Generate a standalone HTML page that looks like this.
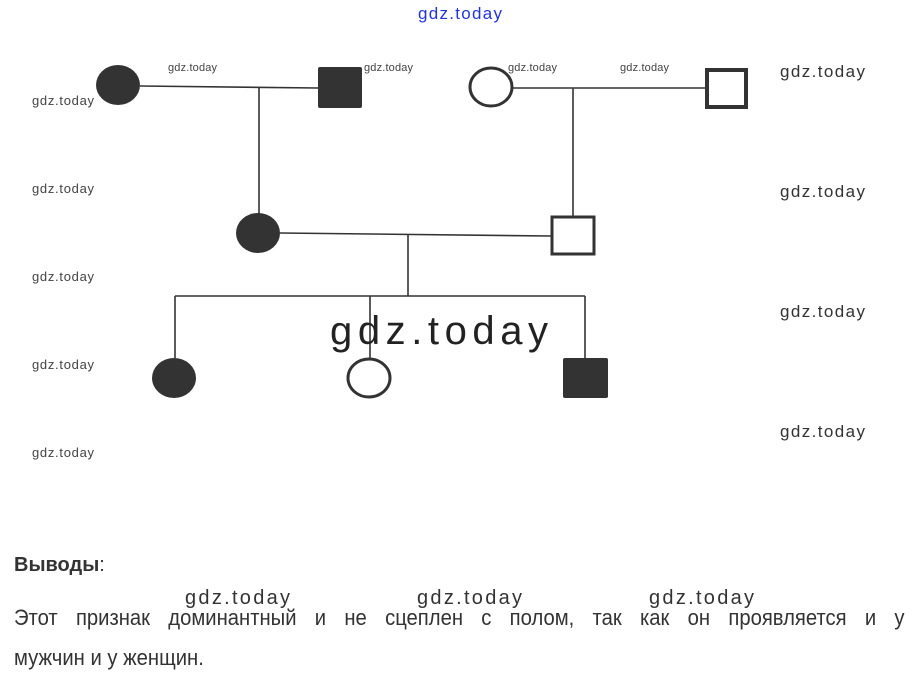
<!DOCTYPE html>
<html><head><meta charset="utf-8"><style>
html,body{margin:0;padding:0;background:#fff;width:917px;height:683px;overflow:hidden}
svg{position:absolute;left:0;top:0}
text{font-family:"Liberation Sans","DejaVu Sans",sans-serif}
.p{position:absolute;left:14px;font-family:"Liberation Sans",sans-serif;font-size:22px;color:#333;transform-origin:0 0;transform:scaleX(0.92);white-space:nowrap}
</style></head><body>
<svg width="917" height="683" viewBox="0 0 917 683">
<g stroke="#333" stroke-width="1.6" fill="none">
<line x1="140" y1="86" x2="318" y2="88"/>
<line x1="259" y1="87" x2="259" y2="214"/>
<line x1="513" y1="88" x2="705" y2="88"/>
<line x1="573" y1="88" x2="573" y2="216"/>
<line x1="280" y1="233" x2="551" y2="236"/>
<line x1="408" y1="235" x2="408" y2="296"/>
<line x1="175" y1="296" x2="585" y2="296"/>
<line x1="175" y1="296" x2="175" y2="358"/>
<line x1="370" y1="296" x2="370" y2="358"/>
<line x1="585" y1="296" x2="585" y2="358"/>
</g>
<ellipse cx="118" cy="85" rx="22" ry="20" fill="#333"/>
<rect x="318" y="67" width="44" height="41" rx="2" fill="#333"/>
<ellipse cx="491" cy="87" rx="21" ry="19" fill="#fff" stroke="#333" stroke-width="3"/>
<rect x="707" y="70" width="39" height="37" fill="#fff" stroke="#333" stroke-width="4"/>
<ellipse cx="258" cy="233" rx="22" ry="20" fill="#333"/>
<rect x="552" y="217" width="42" height="37" fill="#fff" stroke="#333" stroke-width="3"/>
<ellipse cx="174" cy="378" rx="22" ry="20" fill="#333"/>
<ellipse cx="369" cy="378" rx="21" ry="19" fill="#fff" stroke="#333" stroke-width="3"/>
<rect x="563" y="358" width="45" height="40" rx="2" fill="#333"/>
<g fill="#444" font-size="11">
<text x="168" y="71" textLength="49">gdz.today</text>
<text x="364" y="71" textLength="49">gdz.today</text>
<text x="508" y="71" textLength="49">gdz.today</text>
<text x="620" y="71" textLength="49">gdz.today</text>
</g>
<g fill="#444" font-size="13">
<text x="32" y="105" textLength="62">gdz.today</text>
<text x="32" y="193" textLength="62">gdz.today</text>
<text x="32" y="281" textLength="62">gdz.today</text>
<text x="32" y="369" textLength="62">gdz.today</text>
<text x="32" y="457" textLength="62">gdz.today</text>
</g>
<g fill="#333" font-size="17">
<text x="780" y="77" textLength="85">gdz.today</text>
<text x="780" y="197" textLength="85">gdz.today</text>
<text x="780" y="317" textLength="85">gdz.today</text>
<text x="780" y="437" textLength="85">gdz.today</text>
<text x="185" y="604" font-size="20" textLength="105">gdz.today</text>
<text x="417" y="604" font-size="20" textLength="105">gdz.today</text>
<text x="649" y="604" font-size="20" textLength="105">gdz.today</text>
</g>
<text x="330" y="344" font-size="40" fill="#222" textLength="218">gdz.today</text>
<text x="418" y="19" font-size="17" fill="#2233dd" textLength="84">gdz.today</text>
<text x="14" y="571" font-size="20" fill="#333"><tspan font-weight="bold">Выводы</tspan>:</text>
</svg>
<div class="p" style="top:605px;width:968px;text-align:justify;text-align-last:justify">Этот признак доминантный и не сцеплен с полом, так как он проявляется и у</div>
<div class="p" style="top:645px">мужчин и у женщин.</div>
</body></html>
